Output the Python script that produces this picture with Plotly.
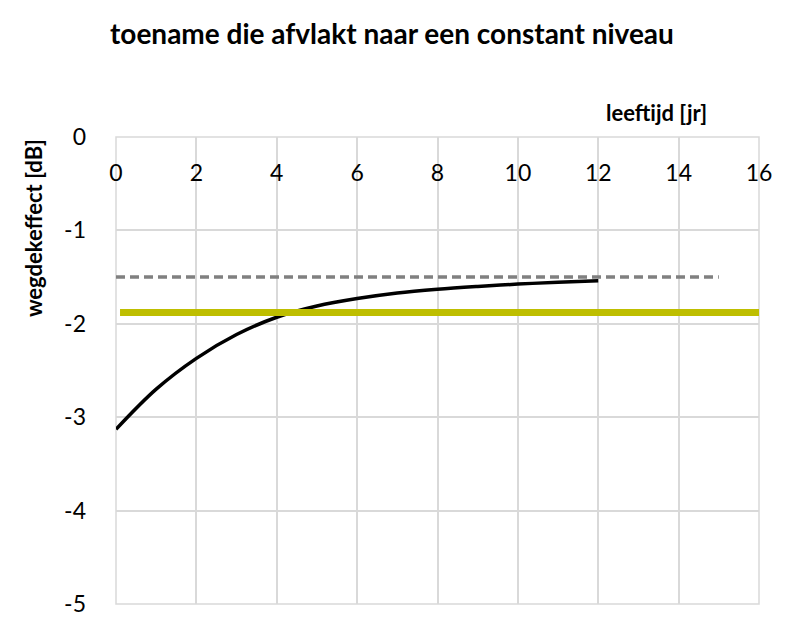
import plotly.graph_objs as go

# leeftijd [jr] -> wegdekeffect [dB]
age = [0, 1, 2, 3, 4, 5, 6, 7, 8, 9, 10, 11, 12]
effect = [-3.13, -2.70, -2.37, -2.115, -1.93, -1.81, -1.73, -1.67,
          -1.63, -1.60, -1.575, -1.555, -1.54]

# constant level (dashed) and average level (yellow)
level_x = [0, 15]
level_y = [-1.5, -1.5]
avg_x = [0.1, 16]
avg_y = [-1.88, -1.88]

x_ticks = [0, 2, 4, 6, 8, 10, 12, 14, 16]
y_ticks = [0, -1, -2, -3, -4, -5]

font_name = "Lato"
grid = "rgb(217, 217, 217)"

traces = [
    go.Scatter(x=level_x, y=level_y, mode="lines",
               line=dict(color="rgb(128, 128, 128)", width=3.5, dash="9px,5px")),
    go.Scatter(x=age, y=effect, mode="lines",
               line=dict(color="black", width=3.5, shape="spline", smoothing=1)),
    go.Scatter(x=avg_x, y=avg_y, mode="lines",
               line=dict(color="rgb(190, 190, 0)", width=7)),
]

layout = go.Layout(
    width=795,
    height=617,
    margin=dict(l=108, r=44, t=129, b=21, autoexpand=False),
    paper_bgcolor="white",
    plot_bgcolor="white",
    showlegend=False,
    font=dict(family=font_name, size=23, color="black"),
    xaxis=dict(
        range=[0, 16],
        anchor="free",
        position=1,
        side="bottom",
        tickvals=x_ticks,
        ticktext=[str(v) for v in x_ticks],
        ticklabelstandoff=20,
        ticks="",
        showgrid=True,
        gridcolor=grid,
        gridwidth=1.5,
        showline=False,
        zeroline=False,
        automargin=False,
    ),
    yaxis=dict(
        range=[-5, 0],
        tickvals=y_ticks,
        ticktext=[str(v) for v in y_ticks],
        ticks="",
        ticklabelstandoff=29,
        showgrid=True,
        gridcolor=grid,
        gridwidth=1.5,
        showline=False,
        zeroline=False,
        automargin=False,
    ),
    annotations=[
        dict(text="<b>toename die afvlakt naar een constant niveau</b>",
             xref="paper", yref="paper", x=0.429, y=1.223,
             xanchor="center", yanchor="middle", showarrow=False,
             font=dict(size=28)),
        dict(text="<b>leeftijd [jr]</b>",
             xref="paper", yref="paper", x=0.841, y=1.053,
             xanchor="center", yanchor="middle", showarrow=False,
             font=dict(size=22)),
        dict(text="<b>wegdekeffect [dB]</b>", textangle=-90,
             xref="paper", yref="paper", x=-0.129, y=0.805,
             xanchor="center", yanchor="middle", showarrow=False,
             font=dict(size=22)),
    ],
    shapes=[
        dict(type="rect", xref="paper", yref="paper", layer="below",
             x0=0, x1=1, y0=0, y1=1,
             line=dict(color=grid, width=1.5)),
        dict(type="line", xref="paper", yref="paper",
             x0=1.052, x1=1.052, y0=-0.05, y1=1.3,
             line=dict(color=grid, width=2)),
    ],
)

fig = go.Figure(data=traces, layout=layout)
fig.write_html("out.html")
